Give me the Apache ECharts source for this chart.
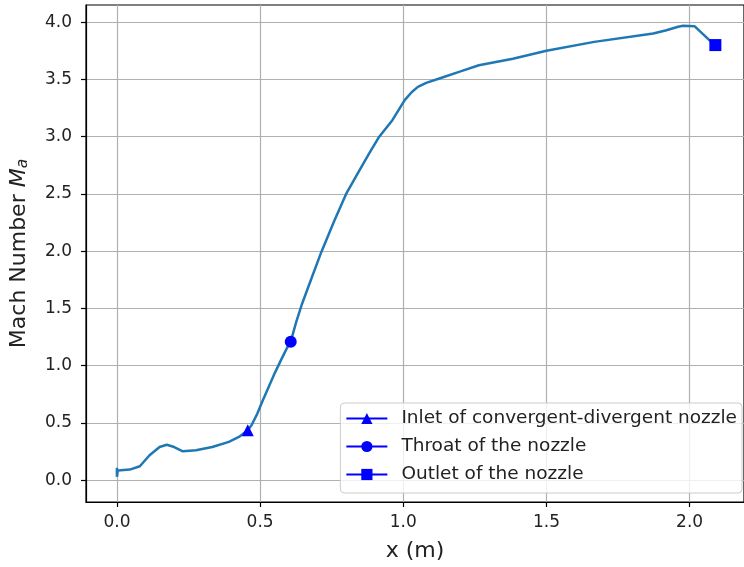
<!DOCTYPE html>
<html>
<head>
<meta charset="utf-8">
<script src="https://cdn.jsdelivr.net/npm/echarts@6/dist/echarts.min.js"></script>
<style>html,body{margin:0;padding:0;background:#fff;}#c{width:744px;height:567px;}</style>
</head>
<body>
<div id="c"></div>
<script>
const curveX = [0, 0, 0.003, 0.045, 0.08, 0.114, 0.149, 0.174, 0.2, 0.23, 0.276, 0.333, 0.391, 0.426, 0.457, 0.47, 0.49, 0.51, 0.53, 0.552, 0.575, 0.595, 0.607, 0.626, 0.645, 0.679, 0.714, 0.76, 0.80, 0.841, 0.88, 0.916, 0.962, 1.005, 1.03, 1.051, 1.08, 1.126, 1.2, 1.264, 1.383, 1.5, 1.667, 1.873, 1.919, 1.96, 1.977, 2.017, 2.069, 2.090];
const curveY = [0.11, 0.03, 0.085, 0.093, 0.122, 0.218, 0.29, 0.31, 0.29, 0.253, 0.262, 0.29, 0.335, 0.378, 0.437, 0.48, 0.58, 0.70, 0.815, 0.94, 1.06, 1.16, 1.21, 1.38, 1.53, 1.76, 1.994, 2.27, 2.498, 2.679, 2.85, 3.0, 3.144, 3.32, 3.39, 3.435, 3.47, 3.508, 3.57, 3.624, 3.68, 3.75, 3.828, 3.901, 3.93, 3.96, 3.968, 3.965, 3.843, 3.80];
const markerNames = ['Inlet of convergent-divergent nozzle', 'Throat of the nozzle', 'Outlet of the nozzle'];
const markerX = [0.457, 0.607, 2.090];
const markerY = [0.437, 1.21, 3.80];
const markerSymbols = ['triangle', 'circle', 'rect'];
const xTicks = [0, 0.5, 1.0, 1.5, 2.0];
const yTicks = [0, 0.5, 1.0, 1.5, 2.0, 2.5, 3.0, 3.5, 4.0];

const curve = curveX.map((x, i) => [x, curveY[i]]);
const markerSeries = markerNames.map((n, i) => ({
  name: n,
  type: 'line',
  data: [[markerX[i], markerY[i]]],
  symbol: markerSymbols[i],
  symbolSize: 12,
  showSymbol: true,
  itemStyle: {color: '#0000ff'},
  lineStyle: {color: '#0000ff', width: 2.5},
  z: 5
}));

const chart = echarts.init(document.getElementById('c'), null, {renderer: 'canvas'});
const font = 'DejaVu Sans';
chart.setOption({
  animation: false,
  backgroundColor: '#fff',
  grid: {left: 86, right: -7, top: 5, bottom: 65, show: true, borderColor: '#000', borderWidth: 1.2, backgroundColor: 'transparent'},
  xAxis: {
    type: 'value', min: -0.108, max: 2.19,
    name: 'x (m)', nameLocation: 'middle', nameGap: 38,
    nameTextStyle: {fontFamily: font, fontSize: 22, color: '#222'},
    axisLine: {show: true, onZero: false, lineStyle: {color: '#000', width: 1.2}},
    axisTick: {show: true, length: 5, lineStyle: {color: '#000', width: 1.2}, customValues: xTicks},
    axisLabel: {customValues: xTicks, fontFamily: font, fontSize: 17, color: '#222', margin: 12, formatter: v => v.toFixed(1)},
    splitLine: {show: true, lineStyle: {color: '#b0b0b0', width: 1.2}}
  },
  yAxis: {
    type: 'value', min: -0.19, max: 4.15,
    name: 'Mach Number {i|M}{s|a}', nameLocation: 'middle', nameGap: 55, nameRotate: 90,
    nameTextStyle: {fontFamily: font, fontSize: 22, color: '#222',
      rich: {i: {fontFamily: font, fontSize: 22, fontStyle: 'italic', color: '#222'},
             s: {fontFamily: font, fontSize: 15.5, fontStyle: 'italic', color: '#222', verticalAlign: 'bottom', padding: [8, 0, 0, 0]}}},
    axisLine: {show: true, onZero: false, lineStyle: {color: '#000', width: 1.2}},
    axisTick: {show: true, length: 5, lineStyle: {color: '#000', width: 1.2}, customValues: yTicks},
    axisLabel: {customValues: yTicks, fontFamily: font, fontSize: 17, color: '#222', margin: 14, formatter: v => v.toFixed(1)},
    splitLine: {show: true, lineStyle: {color: '#b0b0b0', width: 1.2}}
  },
  legend: {
    data: markerNames,
    orient: 'vertical', right: 2, bottom: 74,
    itemWidth: 41, itemHeight: 14, itemGap: 7,
    padding: [5, 5, 8, 5],
    backgroundColor: 'rgba(255,255,255,0.8)', borderColor: '#cccccc', borderWidth: 1, borderRadius: 4,
    textStyle: {fontFamily: font, fontSize: 18.5, color: '#222', lineHeight: 21, padding: [0, 0, 0, 9]}
  },
  series: [{
    name: 'curve', type: 'line', data: curve, showSymbol: false, symbol: 'none',
    lineStyle: {color: '#1f77b4', width: 2.5}, smooth: false, z: 3
  }].concat(markerSeries)
});
</script>
</body>
</html>
